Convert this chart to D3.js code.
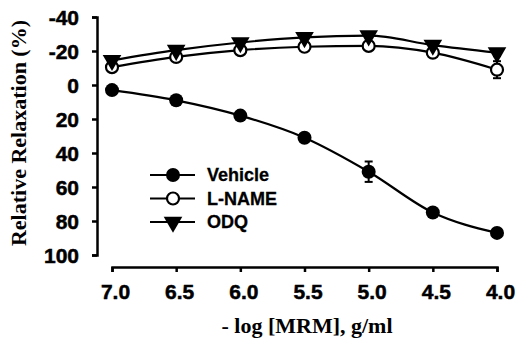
<!DOCTYPE html>
<html>
<head>
<meta charset="utf-8">
<script src="https://cdn.jsdelivr.net/npm/d3@7"></script>
<style>
  body { margin: 0; background: #fff; }
  svg { display: block; }
  .tick text { font-family: "Liberation Sans", Arial, sans-serif; font-weight: bold; font-size: 21px; fill: #000; stroke: #000; stroke-width: 0.5px; }
  .title { font-family: "Liberation Serif", "Times New Roman", serif; font-weight: bold; fill: #000; }
  .legend text { font-family: "Liberation Sans", Arial, sans-serif; font-weight: bold; font-size: 18px; fill: #000; stroke: #000; stroke-width: 0.3px; }
</style>
</head>
<body>
<div id="chart"></div>
<script>
// -log [MRM] concentrations
const doses = [7.0, 6.5, 6.0, 5.5, 5.0, 4.5, 4.0];
const yTicks = [-40, -20, 0, 20, 40, 60, 80, 100];

// relative relaxation (%)
const vehicle = [3, 9, 18, 31, 51, 75, 87];
const vehicleErr = [1, 1, 1, 2, 6, 2, 1];
const lname = [-10.5, -16.5, -20.5, -22.5, -23, -19, -9];
const lnameErr = [1, 1, 1, 1, 1, 1, 5];
const odq = [-14.5, -20.5, -25, -28, -29, -23.5, -19];
const odqErr = [1, 1, 1, 1, 1, 1, 2];

const seriesNames = ["Vehicle", "L-NAME", "ODQ"];

const width = 516, height = 341;

const svg = d3.select("#chart").append("svg")
  .attr("width", width)
  .attr("height", height);

// --- scales ---
const x = d3.scaleLinear().domain([7, 4]).range([112, 497]);
const y = d3.scaleLinear().domain([-40, 100]).range([17, 255]);

// --- axes ---
const yAxis = svg.append("g")
  .attr("transform", "translate(97,0)")
  .call(d3.axisLeft(y).tickValues(yTicks).tickSize(5).tickPadding(13).tickFormat(d => String(d)));

const xAxis = svg.append("g")
  .attr("transform", "translate(0,267)")
  .call(d3.axisBottom(x).tickValues(doses).tickSize(5).tickPadding(12).tickFormat(d3.format(".1f")));

[yAxis, xAxis].forEach(a => {
  a.select(".domain").attr("stroke", "#000").attr("stroke-width", 2.5);
  a.selectAll(".tick line").attr("stroke", "#000").attr("stroke-width", 2.5);
});
yAxis.selectAll(".tick text").attr("dy", "0.36em");
xAxis.selectAll(".tick text").attr("dx", 3);

// --- titles ---
svg.append("text")
  .attr("class", "title")
  .attr("transform", "translate(26,133) rotate(-90)")
  .attr("text-anchor", "middle")
  .style("font-size", "22px")
  .text("Relative Relaxation (%)");

svg.append("text")
  .attr("class", "title")
  .attr("x", 307)
  .attr("y", 333)
  .attr("text-anchor", "middle")
  .style("font-size", "22px")
  .text("- log [MRM], g/ml");

// --- series ---
const series = [
  { name: seriesNames[0], values: vehicle, err: vehicleErr, marker: "filled" },
  { name: seriesNames[1], values: lname, err: lnameErr, marker: "open" },
  { name: seriesNames[2], values: odq, err: odqErr, marker: "tri" }
];

const line = d3.line()
  .x(d => x(d.dose))
  .y(d => y(d.v))
  .curve(d3.curveMonotoneX);

const tri = d3.symbol().type(d3.symbolTriangle).size(150);

function drawMarker(g, type) {
  if (type === "filled") {
    g.append("circle").attr("r", 7).attr("fill", "#000");
  } else if (type === "open") {
    g.append("circle").attr("r", 6).attr("fill", "#fff").attr("stroke", "#000").attr("stroke-width", 2.2);
  } else {
    g.append("path").attr("d", tri).attr("transform", "rotate(180)").attr("fill", "#000");
  }
}

const plot = svg.append("g");

series.forEach(s => {
  const pts = doses.map((dose, i) => ({ dose: dose, v: s.values[i], e: s.err[i] }));
  s.pts = pts;

  plot.append("path")
    .datum(pts)
    .attr("d", line)
    .attr("fill", "none")
    .attr("stroke", "#000")
    .attr("stroke-width", 2.2);

  // error bars
  const eb = plot.append("g").selectAll("g").data(pts).enter().append("g");
  eb.append("line")
    .attr("x1", d => x(d.dose)).attr("x2", d => x(d.dose))
    .attr("y1", d => y(d.v - d.e)).attr("y2", d => y(d.v + d.e))
    .attr("stroke", "#000").attr("stroke-width", 2);
  eb.append("line")
    .attr("x1", d => x(d.dose) - 4).attr("x2", d => x(d.dose) + 4)
    .attr("y1", d => y(d.v - d.e)).attr("y2", d => y(d.v - d.e))
    .attr("stroke", "#000").attr("stroke-width", 2);
  eb.append("line")
    .attr("x1", d => x(d.dose) - 4).attr("x2", d => x(d.dose) + 4)
    .attr("y1", d => y(d.v + d.e)).attr("y2", d => y(d.v + d.e))
    .attr("stroke", "#000").attr("stroke-width", 2);
});

// markers drawn after lines; triangles last so they sit over the open circles
series.forEach(s => {
  plot.append("g").selectAll("g")
    .data(s.pts)
    .enter().append("g")
    .attr("transform", d => `translate(${x(d.dose)},${y(d.v)})`)
    .each(function() { drawMarker(d3.select(this), s.marker); });
});

// --- legend ---
const legend = svg.append("g").attr("class", "legend");
series.forEach((s, i) => {
  const g = legend.append("g").attr("transform", `translate(150,${175 + i * 23.5})`);
  g.append("line").attr("x1", 0).attr("x2", 45).attr("stroke", "#000").attr("stroke-width", 2.2);
  drawMarker(g.append("g").attr("transform", "translate(23,0)"), s.marker);
  g.append("text").attr("x", 57).attr("dy", "0.36em").text(s.name);
});
</script>
</body>
</html>
